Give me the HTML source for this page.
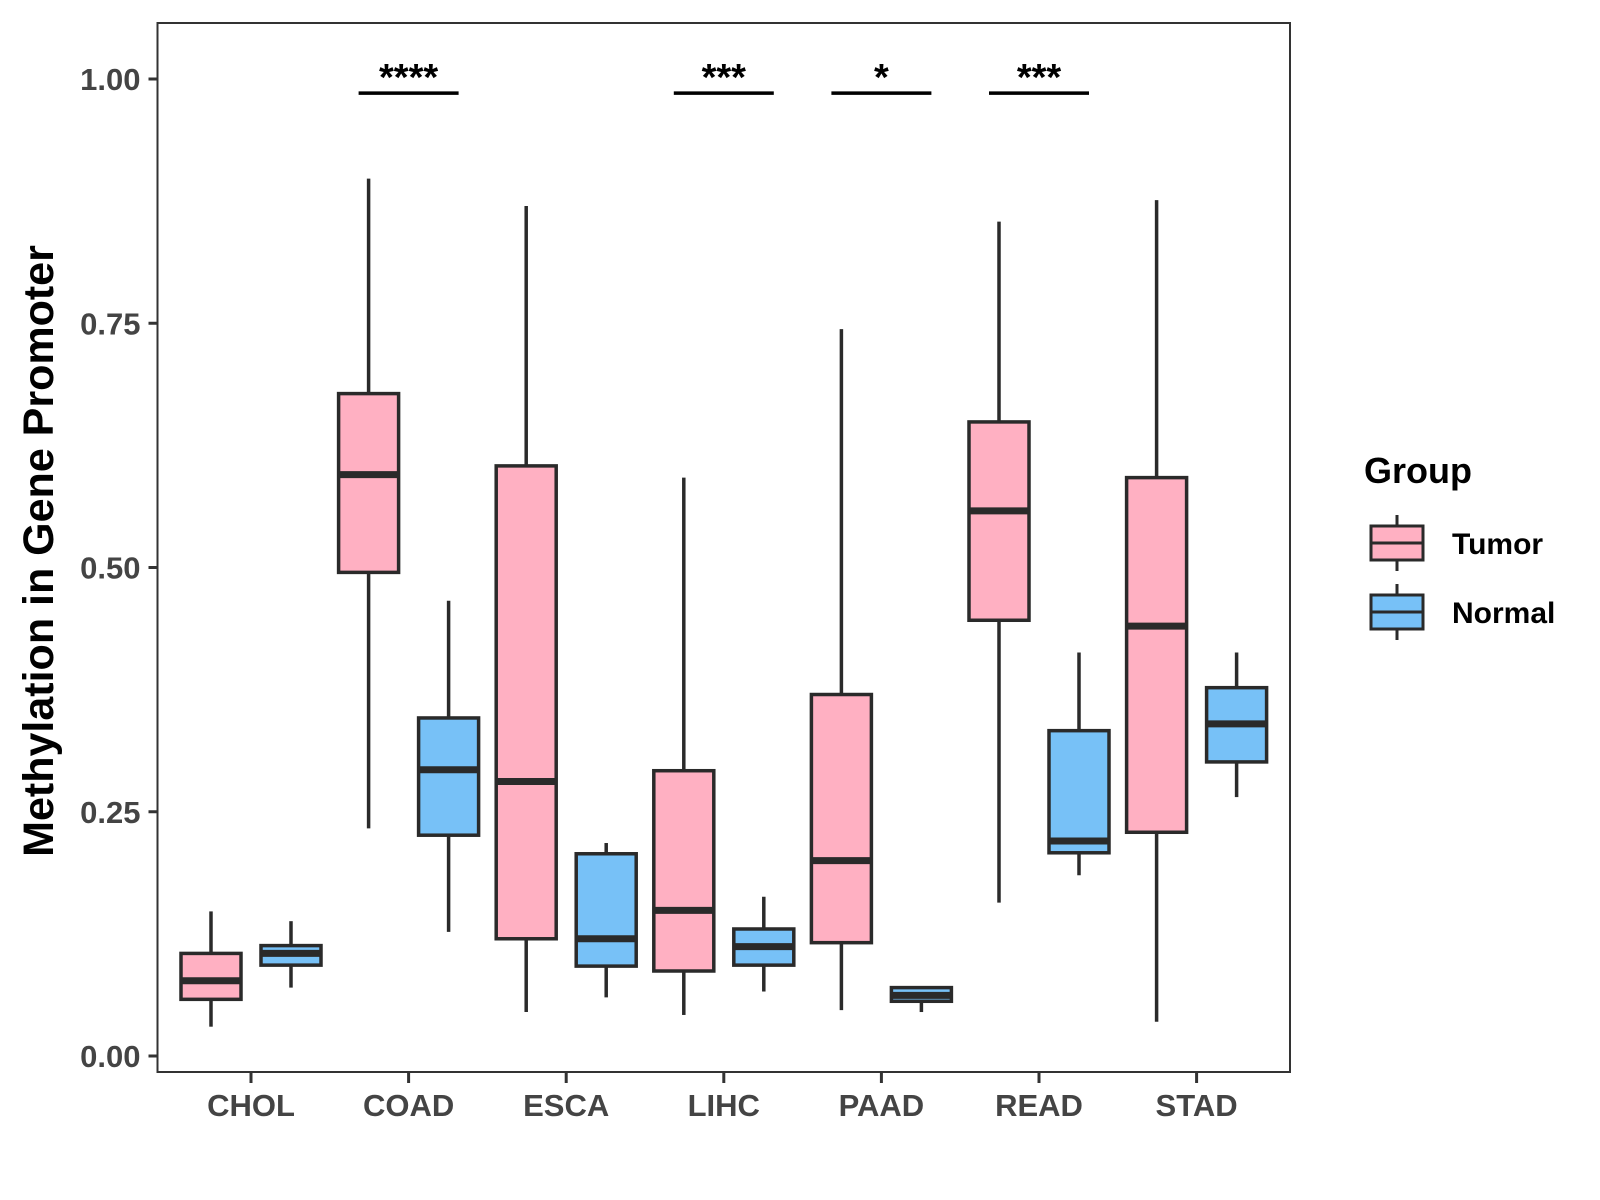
<!DOCTYPE html>
<html><head><meta charset="utf-8"><style>body{margin:0;background:#fff}svg{display:block;font-family:"Liberation Sans",Arial,sans-serif}</style></head>
<body>
<svg id="chart" width="1600" height="1200">
<rect x="0" y="0" width="1600" height="1200" fill="#fff"/>
</svg>
<script>
const categories=["CHOL","COAD","ESCA","LIHC","PAAD","READ","STAD"];
const tumorLo=[0.03,0.233,0.045,0.042,0.047,0.157,0.035];
const tumorQ1=[0.058,0.495,0.12,0.087,0.116,0.446,0.229];
const tumorMed=[0.077,0.595,0.281,0.149,0.2,0.558,0.44];
const tumorQ3=[0.105,0.678,0.604,0.292,0.37,0.649,0.592];
const tumorHi=[0.148,0.898,0.87,0.592,0.744,0.854,0.876];
const normalLo=[0.07,0.127,0.06,0.066,0.045,0.185,0.265];
const normalQ1=[0.093,0.226,0.092,0.093,0.056,0.208,0.301];
const normalMed=[0.105,0.293,0.12,0.112,0.062,0.22,0.34];
const normalQ3=[0.113,0.346,0.207,0.13,0.07,0.333,0.377];
const normalHi=[0.138,0.466,0.218,0.163,0.07,0.413,0.413];
const sigLabels=["","****","","***","*","***",""];
const yTicks=[0,0.25,0.5,0.75,1.0];
const yTickLabels=["0.00","0.25","0.50","0.75","1.00"];

const NS="http://www.w3.org/2000/svg";
const svg=document.getElementById('chart');
const L=157.5,R=1290,T=23,B=1072;
const y=v=>1056-v*977;
const x=i=>251+157.6*i;
function mk(tag,a,parent){const e=document.createElementNS(NS,tag);for(const k in a)e.setAttribute(k,a[k]);(parent||svg).appendChild(e);return e;}

const panel=mk('rect',{x:L,y:T,width:R-L,height:B-T,fill:'#fff',stroke:'#333','stroke-width':2});



yTicks.forEach((v,i)=>{
  const t=mk('line',{x1:L-9,x2:L,y1:y(v),y2:y(v),stroke:'#333','stroke-width':3});
  
  
  const tx=mk('text',{x:L-17,y:y(v)+11,'text-anchor':'end','font-size':31,'font-weight':'bold',fill:'#444'});
  tx.textContent=yTickLabels[i];
  
  
});

function box(cx,lo,q1,med,q3,hi,fill,name){
  const g=mk('g',{});
  
  
  const w=60,st='#2a2a2a';
  mk('line',{x1:cx,x2:cx,y1:y(hi),y2:y(q3),stroke:st,'stroke-width':3.5},g);
  mk('line',{x1:cx,x2:cx,y1:y(q1),y2:y(lo),stroke:st,'stroke-width':3.5},g);
  mk('rect',{x:cx-w/2,y:y(q3),width:w,height:Math.max(y(q1)-y(q3),0.5),fill:fill,stroke:st,'stroke-width':3.5},g);
  mk('line',{x1:cx-w/2,x2:cx+w/2,y1:y(med),y2:y(med),stroke:st,'stroke-width':7},g);
}
categories.forEach((c,i)=>{
  box(x(i)-40,tumorLo[i],tumorQ1[i],tumorMed[i],tumorQ3[i],tumorHi[i],'#FFB0C2','box-tumor-'+c.toLowerCase());
  box(x(i)+40,normalLo[i],normalQ1[i],normalMed[i],normalQ3[i],normalHi[i],'#77C1F7','box-normal-'+c.toLowerCase());
  const t=mk('line',{x1:x(i),x2:x(i),y1:B,y2:B+11,stroke:'#333','stroke-width':3});
  
  
  const tx=mk('text',{x:x(i),y:1116,'text-anchor':'middle','font-size':31,'font-weight':'bold',fill:'#444'});
  tx.textContent=c;
  
  
  if(sigLabels[i]){
    const ln=mk('line',{x1:x(i)-50,x2:x(i)+50,y1:y(0.9855),y2:y(0.9855),stroke:'#000','stroke-width':3.5});
    
    
    const st=mk('text',{x:x(i),y:y(0.9855)-3,'text-anchor':'middle','font-size':38,'font-weight':'bold',fill:'#000'});
    st.textContent=sigLabels[i];
    
    
  }
});

const yt=mk('text',{x:0,y:0,transform:'translate(53,551) rotate(-90)','text-anchor':'middle','font-size':43,'font-weight':'bold',fill:'#000'});
yt.textContent='Methylation in Gene Promoter';



const lt=mk('text',{x:1364,y:483,'font-size':36,'font-weight':'bold',fill:'#000'});
lt.textContent='Group';


[['Tumor','#FFB0C2',543],['Normal','#77C1F7',612]].forEach(([lab,col,cy])=>{
  const g=mk('g',{});
  
  
  mk('line',{x1:1397,x2:1397,y1:cy-28,y2:cy+28,stroke:'#2a2a2a','stroke-width':3},g);
  mk('rect',{x:1371,y:cy-17,width:52,height:34,fill:col,stroke:'#2a2a2a','stroke-width':3},g);
  mk('line',{x1:1371,x2:1423,y1:cy,y2:cy,stroke:'#2a2a2a','stroke-width':3},g);
  const t=mk('text',{x:1452,y:cy+11,'font-size':30,'font-weight':'bold',fill:'#000'},g);
  t.textContent=lab;
});
</script>
</body></html>
